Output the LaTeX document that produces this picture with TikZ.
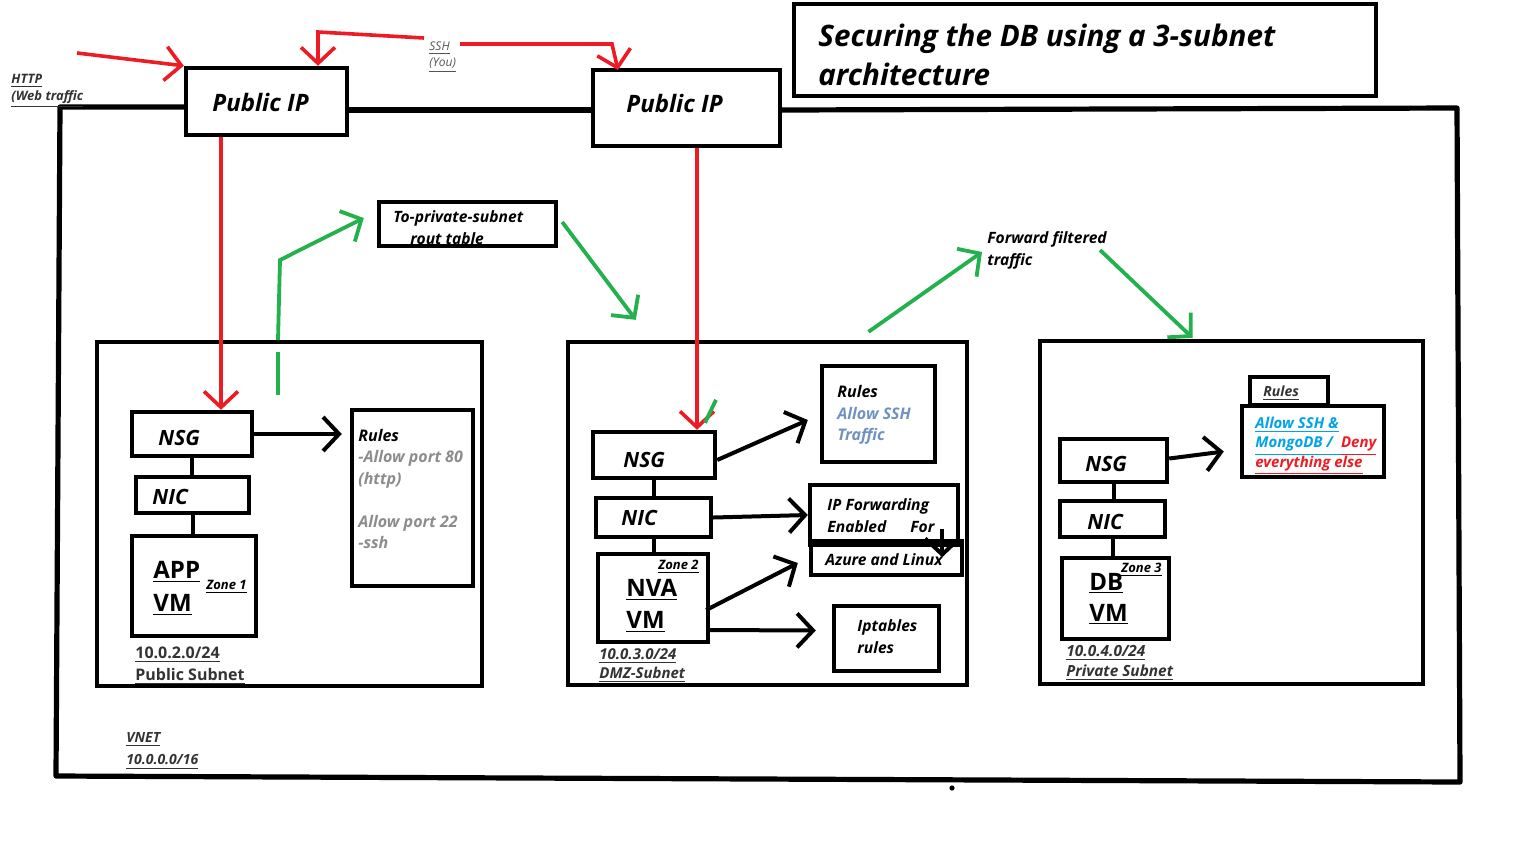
\documentclass[tikz,border=0pt]{standalone}
\usepackage{fontspec}
\setmainfont{Open Sans}
\usetikzlibrary{arrows.meta,calc}
\definecolor{pred}{HTML}{ED1C24}
\definecolor{pgreen}{HTML}{22B14C}
\definecolor{pgray}{HTML}{8C8C8C}
\definecolor{pblue}{HTML}{7092BE}
\definecolor{pcyan}{HTML}{00A2E8}
\definecolor{dgray}{HTML}{333333}
\definecolor{mgray}{HTML}{555555}
\newcommand\mybox[5]{\node[box, minimum width={(#4-#2)*0.5pt}, minimum height={(#5-#3)*0.5pt}] (#1) at ({(#2+#4)/2},{(#3+#5)/2}) {};}
\newcommand\fz[2]{\fontsize{#1pt}{#2pt}\selectfont}
\newcommand\bi{\bfseries\itshape}
\newcommand\ul[1]{\underline{#1}}
\begin{document}
\begin{tikzpicture}[x=0.5pt,y=-0.5pt,
  box/.style={draw=black, line width=2.2pt, inner sep=0pt},
  vnetline/.style={line width=2.6pt, line cap=round, line join=round},
  conn/.style={line width=2pt},
  barb/.style={-{Straight Barb[length=8pt,width=17pt]}},
  blk/.style={conn, barb},
  redarr/.style={draw=pred, line width=1.8pt, barb},
  redline/.style={draw=pred, line width=1.8pt},
  grnarr/.style={draw=pgreen, line width=1.9pt, barb},
  grnline/.style={draw=pgreen, line width=1.9pt},
  txt/.style={inner sep=0pt, anchor=west, align=left},
]
\useasboundingbox (0,0) rectangle (1536,864);

% ---------- boxes ----------
\mybox{pip1}{186}{68}{347}{135}
\mybox{pip2}{593}{70}{780}{146}
\mybox{title}{794}{4}{1376}{96}
\mybox{rt}{379}{202}{556}{246}

\mybox{pub}{97}{342}{482}{686}
\mybox{nsg1}{132}{412}{252}{456}
\mybox{nic1}{136}{477}{249}{513}
\mybox{app}{132}{536}{256}{636}
\mybox{rules1}{352}{410}{473}{586}

\mybox{dmz}{568}{342}{967}{685}
\mybox{nsg2}{593}{432}{715}{478}
\mybox{nic2}{596}{498}{711}{537}
\mybox{nva}{598}{554}{708}{642}
\mybox{rules2}{822}{366}{935}{462}
\mybox{ipf}{810}{485}{958}{545}
\mybox{azl}{811}{541}{962}{575}
\mybox{ipt}{834}{606}{939}{671}

\mybox{priv}{1040}{341}{1423}{684}
\mybox{nsg3}{1060}{439}{1167}{482}
\mybox{nic3}{1060}{501}{1165}{537}
\mybox{db}{1062}{558}{1169}{639}
\mybox{rtab}{1250}{377}{1328}{405}
\mybox{rules3}{1242}{406}{1384}{477}

% ---------- VNET outline ----------
\coordinate (vtl) at (60,107);
\coordinate (vmid) at (0,110);
\coordinate (vtr) at (1457,108);
\coordinate (vbr) at (1460,782);
\coordinate (vbl) at (56,776);
\draw[vnetline] (pip1.west |- vtl) -- (vtl) -- (vbl) -- (vbr) -- (vtr) -- (pip2.east |- vmid);
\draw[vnetline] (pip1.east |- vmid) -- (pip2.west |- vmid);
\fill (952,788) circle[radius=1.3pt];

% ---------- texts ----------
\node[txt, font=\bi\fz{12}{13}] (tpip1) at (212,102) {Public IP};
\node[txt, font=\bi\fz{12}{13}] (tpip2) at (626,103) {Public IP};
\node[txt, font=\bi\fz{14.8}{19.5}] (ttitle) at (818,55) {Securing the DB using a 3-subnet\\architecture};
\node[txt, font=\bi\fz{6.5}{8.5}, text=dgray] (thttp) at (11,91) {\ul{HTTP}\\\ul{(Web traffic}};
\node[txt, font=\itshape\fz{6}{8}, text=mgray] (tssh) at (429,57) {\ul{SSH}\\\ul{(You)}};
\node[txt, font=\bi\fz{7.8}{11}] (trt) at (393,228) {To-private-subnet\\\hspace*{8.5pt}rout table};
\node[txt, font=\bi\fz{7.8}{11}] (tfwd) at (987,250) {Forward filtered\\traffic};

% public subnet
\node[txt, font=\bi\fz{10.5}{12}] (tnsg1) at (158,438) {NSG};
\node[txt, font=\bi\fz{10.5}{12}] (tnic1) at (152,497) {NIC};
\node[txt, font=\bfseries\fz{12}{16.5}] (tapp) at (153,588) {\ul{APP}\\\ul{VM}};
\node[txt, font=\bi\fz{6.5}{8}] (tz1) at (206,587) {\ul{Zone 1}};
\node[txt, font=\bi\fz{8}{10.7}] (tr1) at (358,489) {Rules\\\textcolor{pgray}{-Allow port 80}\\\textcolor{pgray}{(http)}\\[10.7pt]\textcolor{pgray}{Allow port 22}\\\textcolor{pgray}{-ssh}};
\node[txt, font=\bfseries\fz{8}{11}, text=dgray] (tpub) at (135,666) {\ul{10.0.2.0/24}\\\ul{Public Subnet}};

% DMZ subnet
\node[txt, font=\bi\fz{10.5}{12}] (tnsg2) at (623,460) {NSG};
\node[txt, font=\bi\fz{10.5}{12}] (tnic2) at (621,518) {NIC};
\node[txt, font=\bfseries\fz{12}{16}] (tnva) at (626,606) {\ul{NVA}\\\ul{VM}};
\node[txt, font=\bi\fz{6.5}{8}] (tz2) at (658,567) {\ul{Zone 2}};
\node[txt, font=\bi\fz{8}{10.7}] (tr2) at (837,415) {Rules\\\textcolor{pblue}{Allow SSH}\\\textcolor{pblue}{Traffic}};
\node[txt, font=\bi\fz{7.8}{11}] (tipf) at (827,516) {IP Forwarding\\Enabled\hspace{12pt}For};
\node[txt, font=\bi\fz{7.8}{11}] (tazl) at (825,560) {Azure and Linux};
\node[txt, font=\bi\fz{7.8}{11}] (tipt) at (857,637) {Iptables\\rules};
\node[txt, font=\bi\fz{7.5}{9.5}, text=dgray] (tdmz) at (599,666) {\ul{10.0.3.0/24}\\\ul{DMZ-Subnet}};

% private subnet
\node[txt, font=\bi\fz{10.5}{12}] (tnsg3) at (1085,464) {NSG};
\node[txt, font=\bi\fz{10.5}{12}] (tnic3) at (1087,522) {NIC};
\node[txt, font=\bfseries\fz{12}{15.5}] (tdb) at (1089,599) {\ul{DB}\\\ul{VM}};
\node[txt, font=\bi\fz{6.5}{8}] (tz3) at (1121,570) {\ul{Zone 3}};
\node[txt, font=\bi\fz{7}{9}, text=dgray] (trtab) at (1263,393) {\ul{Rules}};
\node[txt, font=\bi\fz{7.5}{9.7}] (tr3) at (1255,446) {\textcolor{pcyan}{\ul{Allow SSH \&}}\\\textcolor{pcyan}{\ul{MongoDB /\hspace*{4pt}}}\textcolor{pred}{\ul{Deny}}\\\textcolor{pred}{\ul{everything else}}};
\node[txt, font=\bi\fz{7.7}{10}, text=dgray] (tprv) at (1066,663) {\ul{10.0.4.0/24}\\\ul{Private Subnet}};

\node[txt, font=\bi\fz{7}{11}, text=dgray] (tvnet) at (126,751) {\ul{VNET}\\\ul{10.0.0.0/16}};

% ---------- black connectors ----------
\draw[conn] (nsg1.south) -- (nic1.north -| nsg1.south);
\draw[conn] (nic1.south) -- (app.north -| nic1.south);
\draw[conn] (nsg2.south -| nic2.north) -- (nic2.north);
\draw[conn] (nic2.south) -- (nva.north -| nic2.south);
\draw[conn] (nsg3.south) -- (nic3.north -| nsg3.south);
\draw[conn] (nic3.south) -- (db.north -| nic3.south);

\draw[blk, shorten >=4pt] (nsg1.east) -- (nsg1.east -| rules1.west);
\draw[blk] ($(nsg2.east)+(0,5)$) -- ($(rules2.west)+(-12,6)$);
\draw[blk] (nic2.east) -- (ipf.west);
\draw[blk] ($(nva.east)+(-4,12)$) -- ($(azl.west)+(-11,5)$);
\draw[blk] ($(nva.east)+(0,32)$) -- ($(ipt.west)+(-16,-8)$);
\draw[blk] ($(ipf.south east)+(-18,-18)$) -- ($(ipf.south east)+(-18,10)$);
\draw[blk] ($(nsg3.east)+(0,-2)$) -- ($(rules3.west)+(-16,10)$);

% ---------- red arrows ----------
\coordinate (httpS) at (77,53);
\draw[redarr] (httpS) -- (pip1.north west);
\coordinate (sshA) at (424,38);
\coordinate (sshL) at (318,32);
\draw[redarr] (sshA) -- (sshL) -- (sshL |- pip1.north);
\coordinate (sshB) at (460,44);
\coordinate (sshR) at (612,44);
\draw[redarr] (sshB) -- (sshR) -- (618,70);
\coordinate (r1) at (221,0);
\draw[redarr] (pip1.south -| r1) -- (nsg1.north -| r1);
\coordinate (r2) at (697,0);
\draw[redarr] (pip2.south -| r2) -- (nsg2.north -| r2);

% ---------- green arrows ----------
\coordinate (g1) at (278,395);
\coordinate (g2) at (278,352);
\coordinate (g3) at (278,340);
\coordinate (g4) at (280,260);
\draw[grnline] (g1) -- (g2);
\draw[grnarr] (g3) -- (g4) -- ($(rt.west)+(-13,-6)$);
\draw[grnarr] ($(rt.east)+(4,-2)$) -- ($(dmz.north west)+(70,-20)$);
\draw[grnline] ($(nsg2.north)+(51,-7)$) -- ($(nsg2.north)+(62,-30)$);
\coordinate (f1) at (982,252);
\draw[grnarr] ($(dmz.north)+(101,-8)$) -- (f1);
\coordinate (f2) at (1100,250);
\draw[grnarr] (f2) -- ($(priv.north)+(-39,-1)$);
\end{tikzpicture}
\end{document}
